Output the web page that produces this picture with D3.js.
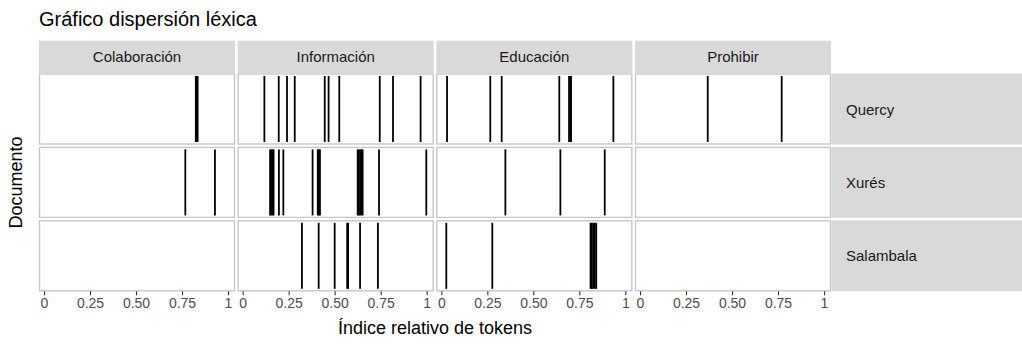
<!DOCTYPE html>
<html>
<head>
<meta charset="utf-8">
<script src="https://cdn.jsdelivr.net/npm/d3@7"></script>
<style>
  html, body { margin: 0; padding: 0; background: #fff; }
  svg { display: block; font-family: "Liberation Sans", Arial, Helvetica, sans-serif; }
</style>
</head>
<body>
<svg id="chart" width="1022" height="345"></svg>
<script>
// Facet labels
const terms = ["Colaboración", "Información", "Educación", "Prohibir"];
const documents = ["Quercy", "Xurés", "Salambala"];
const tickValues = [0, 0.25, 0.5, 0.75, 1];
const tickLabels = ["0", "0.25", "0.50", "0.75", "1"];

// Relative token positions of each term in each document
const quercyColaboracion = [0.825, 0.83, 0.835];
const quercyInformacion  = [0.118, 0.196, 0.241, 0.283, 0.446, 0.467, 0.525, 0.745, 0.817, 0.967];
const quercyEducacion    = [0.031, 0.266, 0.328, 0.641, 0.694, 0.700, 0.705, 0.935];
const quercyProhibir     = [0.368, 0.770];

const xuresColaboracion  = [0.768, 0.929];
const xuresInformacion   = [0.149, 0.156, 0.162, 0.168, 0.197, 0.221, 0.380, 0.408, 0.414, 0.420,
                            0.625, 0.632, 0.639, 0.646, 0.652, 0.741, 0.998];
const xuresEducacion     = [0.348, 0.647, 0.888];
const xuresProhibir      = [];

const salambalaColaboracion = [];
const salambalaInformacion  = [0.322, 0.413, 0.500, 0.568, 0.573, 0.638, 0.735];
const salambalaEducacion    = [0.027, 0.277, 0.811, 0.818, 0.826, 0.834, 0.842];
const salambalaProhibir     = [];

const grid = [
  [quercyColaboracion, quercyInformacion, quercyEducacion, quercyProhibir],
  [xuresColaboracion, xuresInformacion, xuresEducacion, xuresProhibir],
  [salambalaColaboracion, salambalaInformacion, salambalaEducacion, salambalaProhibir]
];

// Long-format table: one row per occurrence
const hits = [];
grid.forEach((row, r) => row.forEach((vals, c) => vals.forEach(v => {
  hits.push({ document: documents[r], term: terms[c], position: v });
})));

const svg = d3.select("#chart");

// Facet layout
const plotLeft = 39, plotRight = 831, plotTop = 73.5, plotBottom = 291.3;
const colGap = 2.67, rowGap = 2.4;
const panelW = (plotRight - plotLeft - colGap * (terms.length - 1)) / terms.length;
const panelH = (plotBottom - plotTop - rowGap * (documents.length - 1)) / documents.length;
const colX = d3.scaleOrdinal().domain(terms).range(terms.map((_, i) => plotLeft + i * (panelW + colGap)));
const rowY = d3.scaleOrdinal().domain(documents).range(documents.map((_, i) => plotTop + i * (panelH + rowGap)));

// Within-panel scales
const x = d3.scaleLinear().domain([-0.0272, 1.038]).range([0, panelW]);
const y = d3.scaleLinear().domain([0, 1]).range([panelH, 0]);

// Title
svg.append("text")
  .attr("x", 39).attr("y", 26)
  .attr("font-size", 20).attr("fill", "#000")
  .text("Gráfico dispersión léxica");

// Column strips
const stripTop = 40.7;
terms.forEach(t => {
  svg.append("rect")
    .attr("x", colX(t)).attr("y", stripTop)
    .attr("width", panelW).attr("height", plotTop - stripTop - 0.5)
    .attr("fill", "#d9d9d9");
  svg.append("text")
    .attr("x", colX(t) + panelW / 2).attr("y", 62)
    .attr("text-anchor", "middle")
    .attr("font-size", 15).attr("fill", "#1a1a1a")
    .text(t);
});

// Row strips
documents.forEach(d => {
  svg.append("rect")
    .attr("x", plotRight + 0.5).attr("y", rowY(d))
    .attr("width", 1022 - plotRight).attr("height", panelH)
    .attr("fill", "#d9d9d9");
  svg.append("text")
    .attr("x", 846).attr("y", rowY(d) + panelH / 2 + 5.5)
    .attr("font-size", 15).attr("fill", "#1a1a1a")
    .text(d);
});

// Panels
const panels = svg.append("g");
documents.forEach(d => terms.forEach(t => {
  const g = panels.append("g").attr("transform", `translate(${colX(t)},${rowY(d)})`);
  g.append("rect")
    .attr("x", 0.5).attr("y", 0.5)
    .attr("width", panelW - 1).attr("height", panelH - 1)
    .attr("fill", "#fff").attr("stroke", "#c4c4c4").attr("stroke-width", 1.3);
  g.selectAll("line.hit")
    .data(hits.filter(h => h.document === d && h.term === t))
    .join("line")
    .attr("class", "hit")
    .attr("x1", h => x(h.position)).attr("x2", h => x(h.position))
    .attr("y1", y(0.035)).attr("y2", y(0.965))
    .attr("stroke", "#000").attr("stroke-width", 1.8);
}));

// Bottom axes, one per column
terms.forEach(t => {
  const axis = d3.axisBottom(x)
    .tickValues(tickValues)
    .tickFormat((v, i) => tickLabels[i])
    .tickSize(4).tickPadding(3);
  const g = svg.append("g")
    .attr("transform", `translate(${colX(t)},${plotBottom})`)
    .call(axis);
  g.select(".domain").remove();
  g.selectAll(".tick line").attr("stroke", "#333").attr("stroke-width", 1.1);
  g.selectAll(".tick text")
    .attr("font-family", "Liberation Sans, Arial, sans-serif")
    .attr("font-size", 14).attr("fill", "#4d4d4d");
});

// Axis titles
svg.append("text")
  .attr("x", (plotLeft + plotRight) / 2).attr("y", 334)
  .attr("text-anchor", "middle")
  .attr("font-size", 18).attr("fill", "#000")
  .text("Índice relativo de tokens");

svg.append("text")
  .attr("transform", `translate(22,${(plotTop + plotBottom) / 2}) rotate(-90)`)
  .attr("text-anchor", "middle")
  .attr("font-size", 18).attr("fill", "#000")
  .text("Documento");
</script>
</body>
</html>
